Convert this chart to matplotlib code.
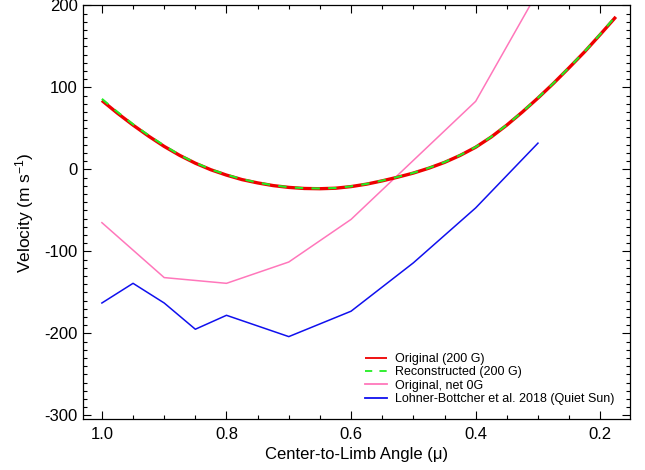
import matplotlib
matplotlib.use("Agg")
import matplotlib.pyplot as plt
from matplotlib.ticker import MultipleLocator

plt.rcParams['font.family'] = ['Liberation Sans', 'DejaVu Sans']
plt.rcParams['mathtext.fontset'] = 'custom'
plt.rcParams['mathtext.rm'] = 'Liberation Sans'
plt.rcParams['mathtext.it'] = 'Liberation Sans:italic'
plt.rcParams['axes.unicode_minus'] = False

# --- data ---
mu_model = [1.0, 0.975, 0.95, 0.925, 0.9, 0.875, 0.85, 0.825, 0.8, 0.775,
            0.75, 0.725, 0.7, 0.675, 0.65, 0.625, 0.6, 0.575, 0.55, 0.525,
            0.5, 0.475, 0.45, 0.425, 0.4, 0.375, 0.35, 0.325, 0.3, 0.275,
            0.25, 0.225, 0.2, 0.175]
v_original = [84, 68.5, 54, 40.5, 28, 17, 7.5, -0.5, -7, -12.5,
              -16.5, -19.8, -22, -23.3, -23.6, -23, -21, -18, -14, -9.5,
              -4.5, 1.5, 8.5, 17, 27, 39.5, 54, 70, 87, 105,
              124, 143.5, 164.5, 186]
v_reconstructed = [86, 70, 55, 41.5, 29, 17.5, 8, 0, -6.5, -12,
                   -16, -19.5, -21.7, -23, -23.3, -22.7, -20.7, -17.7, -13.7, -9.2,
                   -4.2, 1.8, 8.8, 17.3, 27.3, 39.8, 54.3, 70.3, 87.3, 105.3,
                   124.3, 143.8, 165, 187]

mu_net0 = [1.0, 0.9, 0.8, 0.7, 0.6, 0.4, 0.3]
v_net0 = [-65, -132, -139, -113, -61, 83, 217]

mu_lb = [1.0, 0.95, 0.9, 0.85, 0.8, 0.7, 0.6, 0.5, 0.4, 0.3]
v_lb = [-163, -139, -163, -195, -178, -204, -173, -114, -47, 32]

labels = ['Original (200 G)', 'Reconstructed (200 G)', 'Original, net 0G',
          'Lohner-Bottcher et al. 2018 (Quiet Sun)']

fig = plt.figure(figsize=(6.45, 4.70), dpi=100)
ax = fig.add_axes([0.129, 0.1085, 0.848, 0.880])

ax.plot(mu_model, v_original, color='#ee0000', lw=2.4, label=labels[0],
        solid_capstyle='butt', zorder=3)
ax.plot(mu_model, v_reconstructed, color='#22ee22', lw=1.5, ls=(0, (4, 4)),
        label=labels[1], zorder=4)
ax.plot(mu_net0, v_net0, color='#ff77bb', lw=1.1, label=labels[2], zorder=2)
ax.plot(mu_lb, v_lb, color='#1010ee', lw=1.1, label=labels[3], zorder=2)

ax.set_xlim(1.03, 0.152)
ax.set_ylim(-304.5, 200)

ax.xaxis.set_minor_locator(MultipleLocator(0.05))
ax.yaxis.set_major_locator(MultipleLocator(100))
ax.yaxis.set_minor_locator(MultipleLocator(10))
ax.set_xticks([1.0, 0.8, 0.6, 0.4, 0.2])
ax.set_xticklabels(['1.0', '0.8', '0.6', '0.4', '0.2'])

ax.tick_params(which='both', direction='in', top=True, right=True,
               labelsize=12, width=0.8, color='black')
ax.tick_params(which='major', length=6)
ax.tick_params(which='minor', length=3.2)
ax.tick_params(axis='x', which='major', pad=6)
ax.tick_params(axis='y', which='major', pad=4)

for s in ax.spines.values():
    s.set_linewidth(0.9)

ax.set_xlabel('Center-to-Limb Angle (\u03bc)', fontsize=12, labelpad=3)
ax.set_ylabel(r'Velocity (m s$^{\mathregular{-1}}$)', fontsize=12.5, labelpad=6)

leg = ax.legend(loc='lower right', bbox_to_anchor=(0.988, 0.013), frameon=False,
                fontsize=9, handlelength=1.75, handletextpad=0.65,
                labelspacing=0.1, borderaxespad=0.3)
for ln in leg.get_lines():
    ln.set_linewidth(1.3)

fig.savefig('out.png', dpi=100)
